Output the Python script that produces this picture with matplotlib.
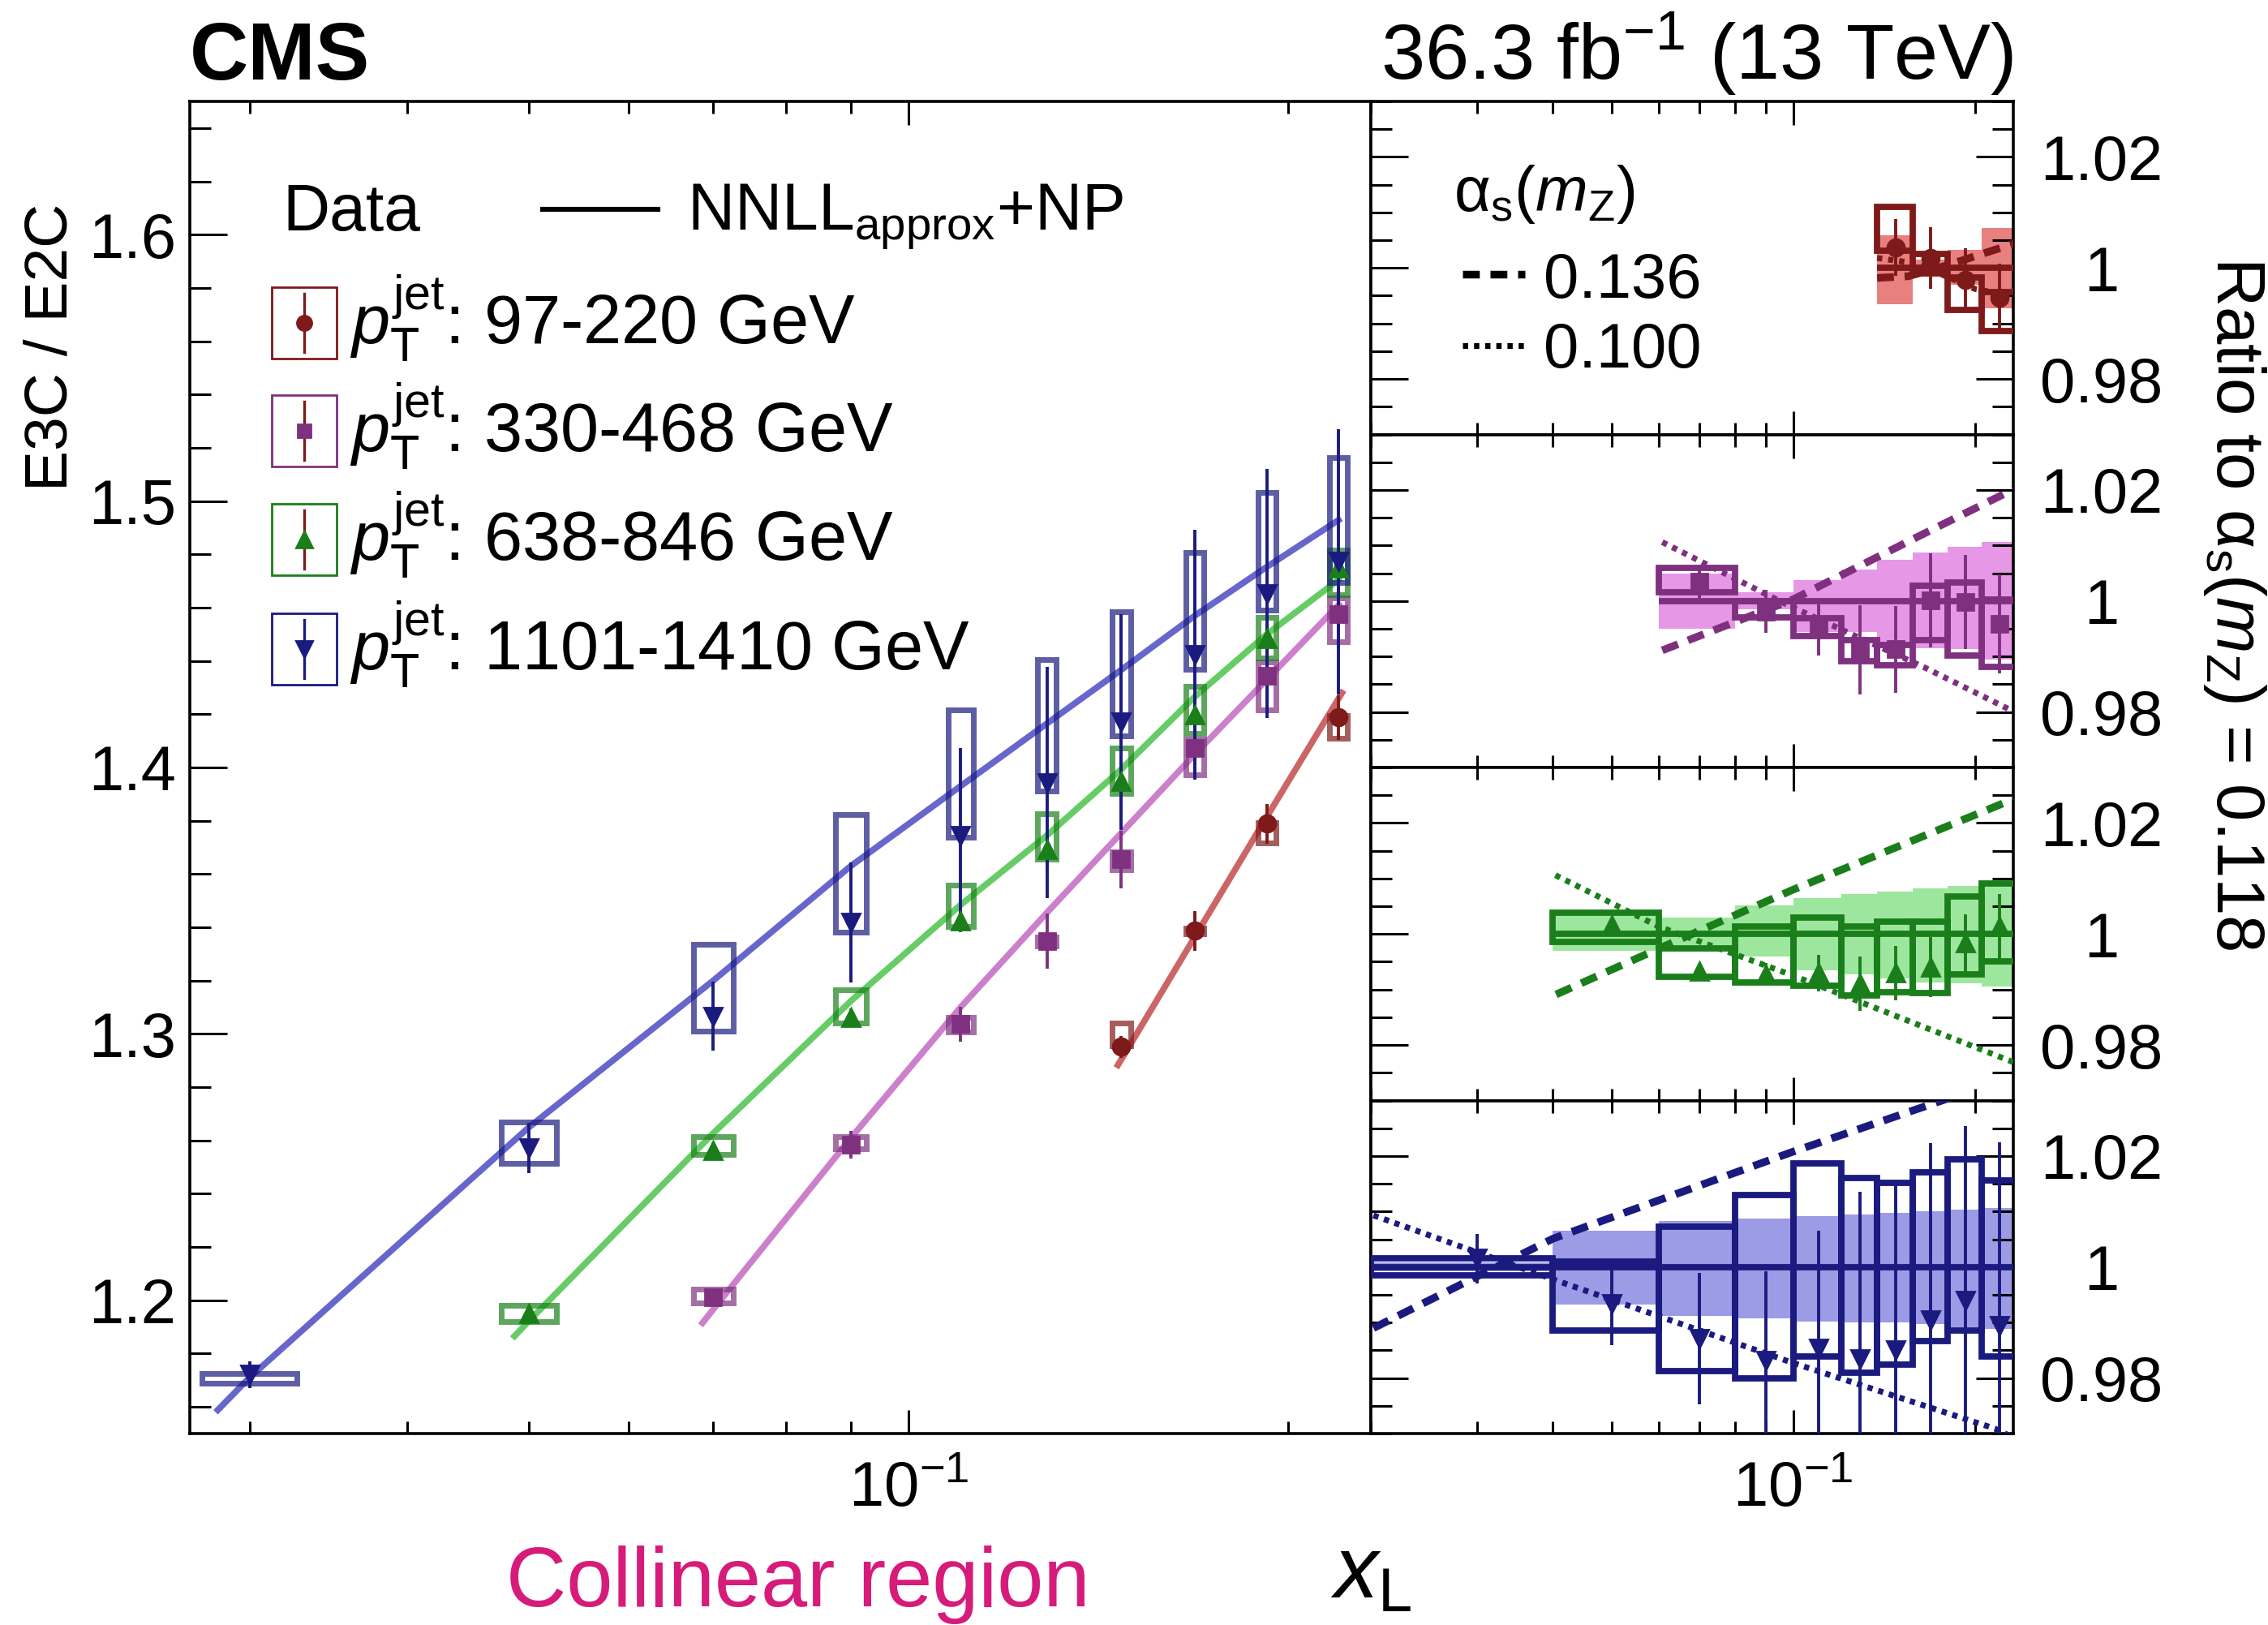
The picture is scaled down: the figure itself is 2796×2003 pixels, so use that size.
import numpy as np
import matplotlib
matplotlib.use("Agg")
import matplotlib.pyplot as plt
from matplotlib.patches import Rectangle
from matplotlib.ticker import (LogLocator, LogFormatterSciNotation, MultipleLocator,
                               FixedLocator, NullFormatter, FuncFormatter)

plt.rcParams["font.family"] = ["Liberation Sans", "DejaVu Sans"]
plt.rcParams["mathtext.fontset"] = "custom"
plt.rcParams["mathtext.rm"] = "Liberation Sans"
plt.rcParams["mathtext.it"] = "Liberation Sans:italic"
plt.rcParams["mathtext.bf"] = "Liberation Sans:bold"
plt.rcParams["axes.unicode_minus"] = False

# x_L binning shared by every jet pT selection
bin_edges = [0.02, 0.04, 0.06, 0.08, 0.10, 0.12, 0.1376, 0.1575, 0.18, 0.205, 0.234]

# ---- 97-220 GeV ----
red_first_bin = 6
red_val = [1.2951, 1.3387, 1.3789, 1.4188]
red_stat = [0.0040, 0.0074, 0.0074, 0.0084]
red_syst_lo = [1.2955, 1.3375, 1.3717, 1.4111]
red_syst_hi = [1.3040, 1.3398, 1.3792, 1.4196]
red_th_x = [0.1462, 0.1476, 0.1688, 0.1925, 0.2215]
red_th_y = [1.2873, 1.2905, 1.3365, 1.3815, 1.4290]
red_ratio = [1.0037, 1.0018, 0.9979, 0.9947]
red_ratio_stat = [0.0051, 0.0055, 0.0056, 0.0061]
red_ratio_syst_lo = [1.0031, 0.9990, 0.9925, 0.9887]
red_ratio_syst_hi = [1.0110, 1.0025, 0.9983, 0.9956]
red_band_lo = [0.9935, 0.9986, 0.9969, 0.9928]
red_band_hi = [1.0059, 1.0015, 1.0032, 1.0072]
red_a136_x = [0.1376, 0.155, 0.18, 0.2188, 0.234]
red_a136_y = [0.9982, 0.9985, 1.0005, 1.0035, 1.0045]
red_a100_x = [0.1376, 0.16, 0.20, 0.234]
red_a100_y = [1.0018, 1.0008, 0.9962, 0.9948]

# ---- 330-468 GeV ----
pur_first_bin = 2
pur_val = [1.2011, 1.2584, 1.3037, 1.3349, 1.3655, 1.4072, 1.4344, 1.4577]
pur_stat = [0.0030, 0.0052, 0.0066, 0.0104, 0.0109, 0.0113, 0.0120, 0.0132]
pur_syst_lo = [1.1991, 1.2568, 1.3006, 1.3330, 1.3615, 1.3974, 1.4215, 1.4472]
pur_syst_hi = [1.2042, 1.2614, 1.3061, 1.3365, 1.3683, 1.4106, 1.4395, 1.4636]
pur_th_x = [0.0684, 0.07, 0.09, 0.11, 0.1288, 0.1476, 0.1688, 0.1925, 0.2205]
pur_th_y = [1.1906, 1.1966, 1.2609, 1.3100, 1.3455, 1.3755, 1.4050, 1.4330, 1.4620]
pur_ratio = [1.0035, 0.9981, 0.9952, 0.9912, 0.9913, 1.0001, 0.9998, 0.9959]
pur_ratio_stat = [0.0031, 0.0039, 0.0050, 0.0080, 0.0078, 0.0085, 0.0085, 0.0089]
pur_ratio_syst_lo = [1.0016, 0.9970, 0.9937, 0.9891, 0.9884, 0.9930, 0.9901, 0.9881]
pur_ratio_syst_hi = [1.0060, 0.9999, 0.9969, 0.9930, 0.9920, 1.0027, 1.0033, 1.0002]
pur_band_lo = [0.9950, 0.9985, 0.9944, 0.9944, 0.9920, 0.9915, 0.9913, 0.9895]
pur_band_hi = [1.0050, 1.0016, 1.0037, 1.0057, 1.0074, 1.0087, 1.0097, 1.0107]
pur_a136_x = [0.0607, 0.10, 0.1657, 0.2313]
pur_a136_y = [0.9911, 1.0003, 1.0123, 1.0201]
pur_a100_x = [0.0607, 0.0973, 0.1643, 0.2313]
pur_a100_y = [1.0106, 0.9994, 0.9881, 0.9801]

# ---- 638-846 GeV ----
grn_first_bin = 1
grn_val = [1.1950, 1.2563, 1.3061, 1.3426, 1.3691, 1.3947, 1.4199, 1.4484, 1.4748]
grn_stat = [0.0020, 0.0030, 0.0035, 0.0045, 0.0066, 0.0078, 0.0078, 0.0070, 0.0078]
grn_syst_lo = [1.1921, 1.2548, 1.3041, 1.3403, 1.3655, 1.3904, 1.4129, 1.4411, 1.4650]
grn_syst_hi = [1.1981, 1.2613, 1.3167, 1.3558, 1.3827, 1.4072, 1.4305, 1.4562, 1.4815]
grn_th_x = [0.0485, 0.05, 0.07, 0.09, 0.11, 0.1288, 0.1476, 0.1688, 0.1925, 0.2205]
grn_th_y = [1.1857, 1.1923, 1.2627, 1.3123, 1.3484, 1.3745, 1.3994, 1.4266, 1.4500, 1.4712]
grn_ratio = [1.0016, 0.9933, 0.9928, 0.9930, 0.9911, 0.9930, 0.9940, 0.9984, 1.0013]
grn_ratio_stat = [0.0010, 0.0012, 0.0020, 0.0033, 0.0049, 0.0049, 0.0054, 0.0052, 0.0059]
grn_ratio_syst_lo = [0.9986, 0.9923, 0.9912, 0.9907, 0.9889, 0.9895, 0.9893, 0.9928, 0.9951]
grn_ratio_syst_hi = [1.0038, 0.9974, 1.0014, 1.0030, 1.0014, 1.0022, 1.0022, 1.0068, 1.0091]
grn_band_lo = [0.9969, 0.9974, 0.9959, 0.9935, 0.9928, 0.9920, 0.9913, 0.9911, 0.9906]
grn_band_hi = [1.0037, 1.0029, 1.0051, 1.0064, 1.0072, 1.0077, 1.0082, 1.0087, 1.0094]
grn_a136_x = [0.0405, 0.06, 0.10, 0.2313]
grn_a136_y = [0.9891, 0.9974, 1.0080, 1.0243]
grn_a100_x = [0.0404, 0.06, 0.10, 0.2313]
grn_a100_y = [1.0106, 1.0013, 0.9925, 0.9769]

# ---- 1101-1410 GeV ----
blu_first_bin = 0
blu_val = [1.1721, 1.2571, 1.3066, 1.3418, 1.3745, 1.3943, 1.4170, 1.4423, 1.4653, 1.4772]
blu_stat = [0.0049, 0.0094, 0.0130, 0.0226, 0.0328, 0.0434, 0.0404, 0.0469, 0.0468, 0.0498]
blu_syst_lo = [1.1688, 1.2515, 1.3010, 1.3383, 1.3737, 1.3913, 1.4118, 1.4367, 1.4590, 1.4694]
blu_syst_hi = [1.1724, 1.2670, 1.3335, 1.3823, 1.4216, 1.4406, 1.4585, 1.4807, 1.5033, 1.5164]
blu_th_x = [0.0282, 0.03, 0.05, 0.07, 0.09, 0.11, 0.1288, 0.1476, 0.1688, 0.1925, 0.2205]
blu_th_y = [1.158, 1.171, 1.265, 1.320, 1.363, 1.393, 1.4165, 1.4367, 1.457, 1.4753, 1.4935]
blu_ratio = [1.0015, 0.9934, 0.9871, 0.9832, 0.9854, 0.9834, 0.9851, 0.9905, 0.9939, 0.9895]
blu_ratio_stat = [0.0044, 0.0074, 0.0118, 0.0161, 0.0212, 0.0301, 0.0298, 0.0318, 0.0315, 0.0330]
blu_ratio_syst_lo = [0.9985, 0.9885, 0.9812, 0.9800, 0.9839, 0.9810, 0.9824, 0.9866, 0.9885, 0.9839]
blu_ratio_syst_hi = [1.0015, 1.0010, 1.0073, 1.0130, 1.0187, 1.0161, 1.0152, 1.0170, 1.0194, 1.0156]
blu_band_lo = [0.9992, 0.9933, 0.9912, 0.9907, 0.9902, 0.9900, 0.9900, 0.9898, 0.9892, 0.9889]
blu_band_hi = [1.0008, 1.0065, 1.0083, 1.0088, 1.0091, 1.0094, 1.0098, 1.0101, 1.0104, 1.0107]
blu_a136_x = [0.0202, 0.04, 0.10, 0.172, 0.234]
blu_a136_y = [0.9890, 1.0051, 1.0208, 1.0296, 1.0346]
blu_a100_x = [0.0202, 0.04, 0.10, 0.2154, 0.234]
blu_a100_y = [1.0093, 0.9978, 0.9827, 0.9709, 0.9690]

pt_labels = ["97-220 GeV", "330-468 GeV", "638-846 GeV", "1101-1410 GeV"]

series = [
    dict(i0=red_first_bin, val=red_val, stat=red_stat, slo=red_syst_lo, shi=red_syst_hi,
         thx=red_th_x, thy=red_th_y, r=red_ratio, rstat=red_ratio_stat,
         rlo=red_ratio_syst_lo, rhi=red_ratio_syst_hi, blo=red_band_lo, bhi=red_band_hi,
         hx=red_a136_x, hy=red_a136_y, lx=red_a100_x, ly=red_a100_y,
         dark="#7f1a1a", light="#cc6666", band="#e88080", marker="o", ms=7.5),
    dict(i0=pur_first_bin, val=pur_val, stat=pur_stat, slo=pur_syst_lo, shi=pur_syst_hi,
         thx=pur_th_x, thy=pur_th_y, r=pur_ratio, rstat=pur_ratio_stat,
         rlo=pur_ratio_syst_lo, rhi=pur_ratio_syst_hi, blo=pur_band_lo, bhi=pur_band_hi,
         hx=pur_a136_x, hy=pur_a136_y, lx=pur_a100_x, ly=pur_a100_y,
         dark="#7f307f", light="#cc80cc", band="#e698e6", marker="s", ms=7.0),
    dict(i0=grn_first_bin, val=grn_val, stat=grn_stat, slo=grn_syst_lo, shi=grn_syst_hi,
         thx=grn_th_x, thy=grn_th_y, r=grn_ratio, rstat=grn_ratio_stat,
         rlo=grn_ratio_syst_lo, rhi=grn_ratio_syst_hi, blo=grn_band_lo, bhi=grn_band_hi,
         hx=grn_a136_x, hy=grn_a136_y, lx=grn_a100_x, ly=grn_a100_y,
         dark="#1a7f1a", light="#66cc66", band="#9de69d", marker="^", ms=8.0),
    dict(i0=blu_first_bin, val=blu_val, stat=blu_stat, slo=blu_syst_lo, shi=blu_syst_hi,
         thx=blu_th_x, thy=blu_th_y, r=blu_ratio, rstat=blu_ratio_stat,
         rlo=blu_ratio_syst_lo, rhi=blu_ratio_syst_hi, blo=blu_band_lo, bhi=blu_band_hi,
         hx=blu_a136_x, hy=blu_a136_y, lx=blu_a100_x, ly=blu_a100_y,
         dark="#1a1a7f", light="#6666cc", band="#9b9be6", marker="v", ms=8.0),
]

W, H, DPI = 2796, 2003, 200
fig = plt.figure(figsize=(W / DPI, H / DPI), dpi=DPI)

x_left, x_mid, x_right = 234 / W, 1690 / W, 2482 / W
y_bot, y_top = 1 - 1767 / H, 1 - 125 / H
ax = fig.add_axes([x_left, y_bot, x_mid - x_left, y_top - y_bot])
ph = (y_top - y_bot) / 4
rax = []
for k in range(4):
    a = fig.add_axes([x_mid, y_top - (k + 1) * ph, x_right - x_mid, ph],
                     sharex=rax[0] if rax else None)
    rax.append(a)

edges = np.array(bin_edges)
dash_136 = (0, (2.2, 1.4))
dot_100 = (0, (0.9, 1.0))

for s, a in zip(series, rax):
    n = len(s["val"])
    lo_e = edges[s["i0"]:s["i0"] + n]
    hi_e = edges[s["i0"] + 1:s["i0"] + n + 1]
    xc = 0.5 * (lo_e + hi_e)

    # main panel: prediction, systematic boxes, data
    ax.plot(s["thx"], s["thy"], color=s["light"], lw=2.8, zorder=2,
            solid_capstyle="butt")
    half = 0.125 * np.log10(hi_e / lo_e)
    for x, h, b0, b1 in zip(xc, half, s["slo"], s["shi"]):
        x0, x1 = x * 10 ** -h, x * 10 ** h
        ax.add_patch(Rectangle((x0, b0), x1 - x0, b1 - b0, fill=False,
                               ec=s["dark"], alpha=0.7, lw=2.5,
                               joinstyle="miter", zorder=3))
    ax.errorbar(xc, s["val"], yerr=s["stat"], fmt=s["marker"], color=s["dark"],
                ms=s["ms"], elinewidth=1.4, capsize=0, zorder=4)

    # ratio panel
    a.stairs(s["bhi"], np.append(lo_e, hi_e[-1]), baseline=s["blo"], fill=True,
             color=s["band"], lw=0, zorder=1)
    a.hlines(1.0, lo_e[0], hi_e[-1], color=s["dark"], lw=2.8, zorder=3)
    a.plot(s["hx"], s["hy"], color=s["dark"], lw=3.4, ls=dash_136, zorder=4)
    a.plot(s["lx"], s["ly"], color=s["dark"], lw=2.6, ls=dot_100, zorder=4)
    for x0, x1, b0, b1 in zip(lo_e, hi_e, s["rlo"], s["rhi"]):
        a.add_patch(Rectangle((x0, b0), x1 - x0, b1 - b0, fill=False,
                              ec=s["dark"], lw=2.8, joinstyle="miter", zorder=5))
    a.errorbar(xc, s["r"], yerr=s["rstat"], fmt=s["marker"], color=s["dark"],
               ms=s["ms"], elinewidth=1.4, capsize=0, zorder=6)

# axes styling
for a in [ax] + rax:
    a.set_xscale("log")
    for sp in a.spines.values():
        sp.set_linewidth(1.3)
    a.xaxis.set_major_locator(LogLocator(base=10, numticks=10))
    a.xaxis.set_minor_locator(LogLocator(base=10, subs=np.arange(2, 10), numticks=20))
    a.xaxis.set_minor_formatter(NullFormatter())
    a.tick_params(axis="x", which="both", direction="in", top=True, bottom=True,
                  width=1.1, labelsize=28, pad=12)
    a.tick_params(axis="x", which="major", length=10.5)
    a.tick_params(axis="x", which="minor", length=5.4)
    a.tick_params(axis="y", which="major", length=16.5, width=1.1)
    a.tick_params(axis="y", which="minor", length=9.4, width=1.1)

ax.set_xlim(0.0269, 0.2328)
ax.set_ylim(1.15, 1.65)
ax.xaxis.set_major_formatter(LogFormatterSciNotation())
ax.yaxis.set_major_locator(MultipleLocator(0.1))
ax.yaxis.set_minor_locator(MultipleLocator(0.02))
ax.yaxis.set_major_formatter(FuncFormatter(lambda v, p: f"{v:.1f}"))
ax.tick_params(axis="y", which="both", direction="in", left=True, right=False,
               labelsize=28, pad=6)

rax[0].set_xlim(0.02, 0.2312)
for k, a in enumerate(rax):
    a.set_ylim(0.97, 1.03)
    a.yaxis.set_major_locator(FixedLocator([0.98, 1.0, 1.02]))
    a.yaxis.set_minor_locator(MultipleLocator(0.005))
    a.yaxis.set_major_formatter(FuncFormatter(lambda v, p: f"{v:g}"))
    a.tick_params(axis="y", which="both", direction="in", left=True, right=True,
                  labelleft=False, labelright=True, labelsize=28, pad=39)
    for t in a.yaxis.get_major_ticks():
        t.label2.set_horizontalalignment("center")
    if k < 3:
        a.tick_params(axis="x", which="both", labelbottom=False)
rax[3].xaxis.set_major_formatter(LogFormatterSciNotation())

# legend of the main panel
tA = ax.transAxes
ax.text(0.0783, 0.903, "Data", transform=tA, fontsize=29, va="baseline")
ax.plot([0.2988, 0.3963], [0.919, 0.919], color="black", lw=2.2, transform=tA)
ax.text(0.421, 0.903, r"NNLL$_{\mathrm{approx}}$+NP", transform=tA, fontsize=29,
        va="baseline")
row_y = [0.8337, 0.7527, 0.6711, 0.5889]
bar_colors = ["#7f1a1a", "#7f1a1a", "#7f1a1a", "#1a1a7f"]
for s, lab, yc, bc in zip(series, pt_labels, row_y, bar_colors):
    ax.add_patch(Rectangle((0.0694, yc - 0.0268), 0.0549, 0.0536, transform=tA,
                           fill=False, ec=s["dark"], lw=1.0, zorder=6))
    ax.plot([0.0969, 0.0969], [yc - 0.022, yc + 0.022], color=bc, lw=1.2,
            transform=tA, zorder=6)
    ax.plot([0.0969], [yc], marker=s["marker"], color=s["dark"], ms=s["ms"] - 1,
            transform=tA, zorder=7)
    ax.text(0.1353, yc - 0.0155, r"$p_{\mathrm{T}}^{\mathrm{jet}}$: " + lab,
            transform=tA, fontsize=30.5, va="baseline")

# legend of the ratio panels
t0 = rax[0].transAxes
rax[0].text(0.129, 0.671, r"α$_{\mathrm{s}}$($m_{\mathrm{Z}}$)", transform=t0,
            fontsize=28, va="baseline")
rax[0].plot([0.143, 0.24], [0.48, 0.48], color="black", lw=3.4, ls=dash_136,
            transform=t0)
rax[0].text(0.269, 0.41, "0.136", transform=t0, fontsize=28, va="baseline")
rax[0].plot([0.143, 0.24], [0.266, 0.266], color="black", lw=2.6, ls=dot_100,
            transform=t0)
rax[0].text(0.269, 0.20, "0.100", transform=t0, fontsize=28, va="baseline")

# titles and axis labels
fig.text(x_left, 1 - 98 / H, "CMS", fontsize=36, fontweight="bold", va="baseline")
fig.text(x_right, 1 - 98 / H, r"36.3 fb$^{-1}$ (13 TeV)", fontsize=35, ha="right",
         va="baseline")
fig.text(0.0225, 0.875, "E3C / E2C", fontsize=27, rotation=90, ha="center", va="top")
fig.text(0.9853, 0.842, r"Ratio to α$_{\mathrm{s}}$($m_{\mathrm{Z}}$) = 0.118",
         fontsize=30, rotation=270, ha="center", va="top")
fig.text(0.5866, 0.0165, r"$x_{\mathrm{L}}$", fontsize=39, va="baseline")
fig.text(0.352, 0.0115, "Collinear region", fontsize=37, color="#d61b7a",
         ha="center", va="baseline")

fig.savefig("out.png", dpi=DPI)
